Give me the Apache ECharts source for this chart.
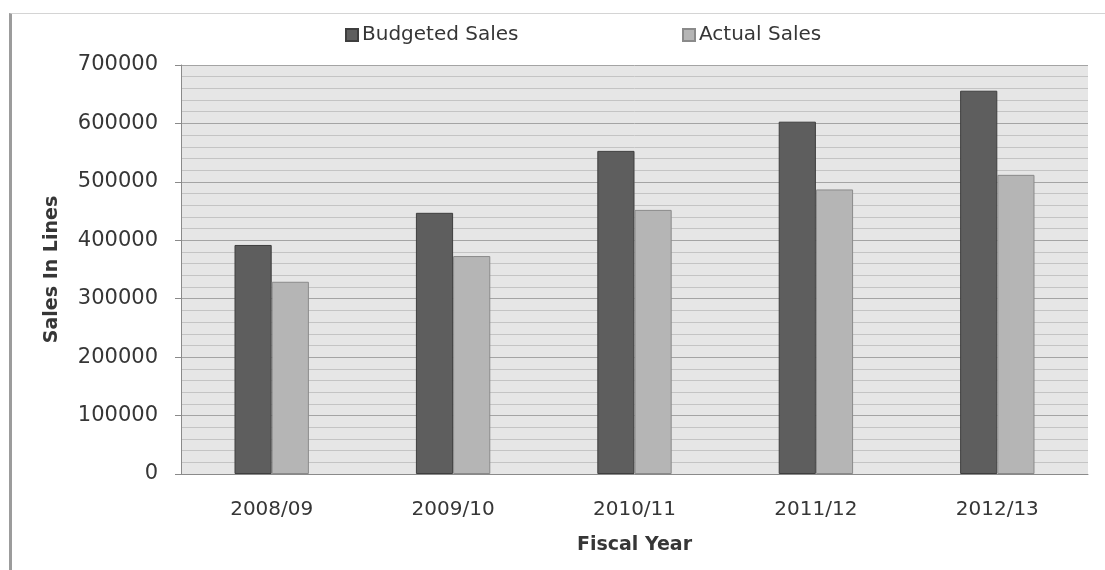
<!DOCTYPE html>
<html>
<head>
<meta charset="utf-8">
<title>Budgeted vs Actual Sales</title>
<script src="https://cdn.jsdelivr.net/npm/echarts@6/dist/echarts.min.js"></script>
<style>
  html, body { margin: 0; padding: 0; background: #ffffff; }
  #frame {
    position: absolute; left: 9px; top: 13px; right: 0; bottom: 0;
    border-left: 3px solid #9c9c9c; border-top: 1px solid #d4d4d4;
  }
  #chart { position: absolute; left: 0; top: 0; width: 1105px; height: 570px; }
</style>
</head>
<body>
<div id="frame"></div>
<div id="chart"></div>
<script>
// Fiscal years on the category axis
const fiscalYears = ['2008/09', '2009/10', '2010/11', '2011/12', '2012/13'];

// Sales in lines per fiscal year
const budgetedSales = [392000, 447000, 553000, 603000, 656000];
const actualSales = [329000, 373000, 452000, 487000, 512000];

// Value axis range
const yMin = 0;
const yMax = 700000;
const yStep = 100000;

const FONT = 'DejaVu Sans';
const TEXT = '#363636';

const chart = echarts.init(document.getElementById('chart'), null, { renderer: 'canvas' });

const legendText = { fontFamily: FONT, fontSize: 20, color: TEXT, padding: [0, 0, 0, -1] };

chart.setOption({
  animation: false,
  textStyle: { fontFamily: FONT },
  legend: [
    {
      data: ['Budgeted Sales'],
      left: 345, top: 25, padding: 0,
      itemWidth: 12, itemHeight: 12, itemGap: 0,
      icon: 'rect',
      textStyle: legendText
    },
    {
      data: ['Actual Sales'],
      left: 682, top: 25, padding: 0,
      itemWidth: 12, itemHeight: 12, itemGap: 0,
      icon: 'rect',
      textStyle: legendText
    }
  ],
  grid: {
    left: 181, right: 17, top: 65, bottom: 96,
    show: true, backgroundColor: '#e6e6e6', borderWidth: 0
  },
  xAxis: {
    type: 'category',
    data: fiscalYears,
    name: 'Fiscal Year',
    nameLocation: 'middle',
    nameGap: 62,
    nameTextStyle: { fontFamily: FONT, fontSize: 19, fontWeight: 'bold', color: TEXT },
    axisLine: { show: true, lineStyle: { color: '#8a8a8a', width: 1 } },
    axisTick: { show: false },
    axisLabel: { fontFamily: FONT, fontSize: 20, color: TEXT, margin: 26 },
    splitLine: { show: false }
  },
  yAxis: {
    type: 'value',
    min: yMin, max: yMax, interval: yStep,
    name: 'Sales In Lines',
    nameLocation: 'middle',
    nameGap: 119,
    nameRotate: 90,
    nameTextStyle: { fontFamily: FONT, fontSize: 19, fontWeight: 'bold', color: TEXT },
    axisLine: { show: true, lineStyle: { color: '#8a8a8a', width: 1 } },
    axisTick: { show: true, inside: false, length: 6, lineStyle: { color: '#8a8a8a' } },
    axisLabel: {
      fontFamily: FONT, fontSize: 21, color: TEXT, margin: 23,
      formatter: (v) => String(v)
    },
    splitLine: { show: true, lineStyle: { color: '#a4a4a4', width: 1 } },
    minorTick: { show: false, splitNumber: 5 },
    minorSplitLine: { show: true, lineStyle: { color: '#c4c4c4', width: 1 } }
  },
  series: [
    {
      name: 'Budgeted Sales',
      type: 'bar',
      data: budgetedSales,
      barGap: '0%',
      barCategoryGap: '59%',
      itemStyle: { color: '#5e5e5e', borderColor: '#3e3e3e', borderWidth: 1 }
    },
    {
      name: 'Actual Sales',
      type: 'bar',
      data: actualSales,
      itemStyle: { color: '#b5b5b5', borderColor: '#8a8a8a', borderWidth: 1 }
    }
  ]
});
</script>
</body>
</html>
